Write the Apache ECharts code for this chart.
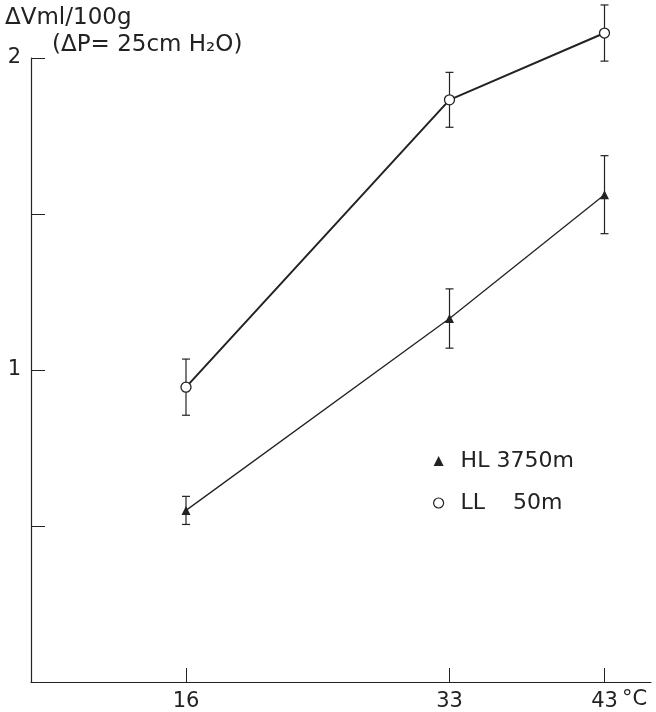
<!DOCTYPE html>
<html>
<head>
<meta charset="utf-8">
<script src="https://cdn.jsdelivr.net/npm/echarts@6/dist/echarts.min.js"></script>
<style>
  html, body { margin: 0; padding: 0; background: #fff; }
  #chart { width: 656px; height: 712px; }
</style>
</head>
<body>
<div id="chart"></div>
<script>
// temperature (°C) and volume change (ml/100g) with error bars
const temps = [16, 33, 43];
const llMean = [0.945, 1.866, 2.08];
const llErr = [0.09, 0.088, 0.09];
const hlMean = [0.55, 1.165, 1.562];
const hlErr = [0.045, 0.095, 0.125];
const xTicks = [16, 33, 43];
const yTicks = [0.5, 1, 1.5, 2];
const yLabels = [1, 2];

const ink = '#222';
const font = 'DejaVu Sans';

function errData(mean, err) {
  return temps.map((t, i) => [t, mean[i] - err[i], mean[i] + err[i]]);
}

function renderErr(params, api) {
  const x = api.value(0);
  const lo = api.coord([x, api.value(1)]);
  const hi = api.coord([x, api.value(2)]);
  const cap = 4;
  const style = { stroke: ink, lineWidth: 1.2 };
  return {
    type: 'group',
    children: [
      { type: 'line', shape: { x1: lo[0], y1: lo[1], x2: hi[0], y2: hi[1] }, style },
      { type: 'line', shape: { x1: hi[0] - cap, y1: hi[1], x2: hi[0] + cap, y2: hi[1] }, style },
      { type: 'line', shape: { x1: lo[0] - cap, y1: lo[1], x2: lo[0] + cap, y2: lo[1] }, style }
    ]
  };
}

const chart = echarts.init(document.getElementById('chart'));
chart.setOption({
  animation: false,
  backgroundColor: '#fff',
  grid: { left: 31, right: 5, top: 58, bottom: 29 },
  xAxis: {
    type: 'value',
    min: 6,
    max: 46,
    splitLine: { show: false },
    axisLine: { lineStyle: { color: ink, width: 1.2 } },
    axisTick: { inside: true, length: 14, customValues: xTicks, lineStyle: { color: ink } },
    axisLabel: { customValues: xTicks, margin: 9, color: ink, fontSize: 21, fontFamily: font }
  },
  yAxis: {
    type: 'value',
    min: 0,
    max: 2,
    splitLine: { show: false },
    axisLine: { lineStyle: { color: ink, width: 1.2 } },
    axisTick: { inside: true, length: 14, customValues: yTicks, lineStyle: { color: ink } },
    axisLabel: { customValues: yLabels, margin: 10, color: ink, fontSize: 21, fontFamily: font }
  },
  legend: {
    orient: 'vertical',
    left: 428,
    top: 445,
    itemGap: 20,
    itemWidth: 10,
    itemHeight: 10,
    textStyle: { fontSize: 22, color: ink, fontFamily: font, padding: [0, 0, 0, 12] },
    data: [
      { name: 'HL 3750m', icon: 'triangle', itemStyle: { color: ink } },
      { name: 'LL    50m', icon: 'circle', itemStyle: { color: '#fff', borderColor: ink, borderWidth: 1.2 } }
    ]
  },
  graphic: [
    { type: 'text', left: 5, top: 7, style: { text: 'ΔVml/100g', font: '23px "DejaVu Sans"', fill: ink } },
    { type: 'text', left: 52, top: 34, style: { text: '(ΔP= 25cm H₂O)', font: '23px "DejaVu Sans"', fill: ink } },
    { type: 'text', left: 622, top: 689, style: { text: '°C', font: '21px "DejaVu Sans"', fill: ink } }
  ],
  series: [
    {
      type: 'custom',
      name: 'hlErr',
      renderItem: renderErr,
      data: errData(hlMean, hlErr),
      z: 1
    },
    {
      type: 'custom',
      name: 'llErr',
      renderItem: renderErr,
      data: errData(llMean, llErr),
      z: 1
    },
    {
      type: 'line',
      name: 'HL 3750m',
      clip: false,
      data: temps.map((t, i) => [t, hlMean[i]]),
      symbol: 'triangle',
      symbolSize: 9,
      lineStyle: { color: ink, width: 1.3 },
      itemStyle: { color: ink },
      z: 3
    },
    {
      type: 'line',
      name: 'LL    50m',
      clip: false,
      data: temps.map((t, i) => [t, llMean[i]]),
      symbol: 'circle',
      symbolSize: 10,
      lineStyle: { color: ink, width: 2 },
      itemStyle: { color: '#fff', borderColor: ink, borderWidth: 1.3 },
      z: 3
    }
  ]
});
</script>
</body>
</html>
